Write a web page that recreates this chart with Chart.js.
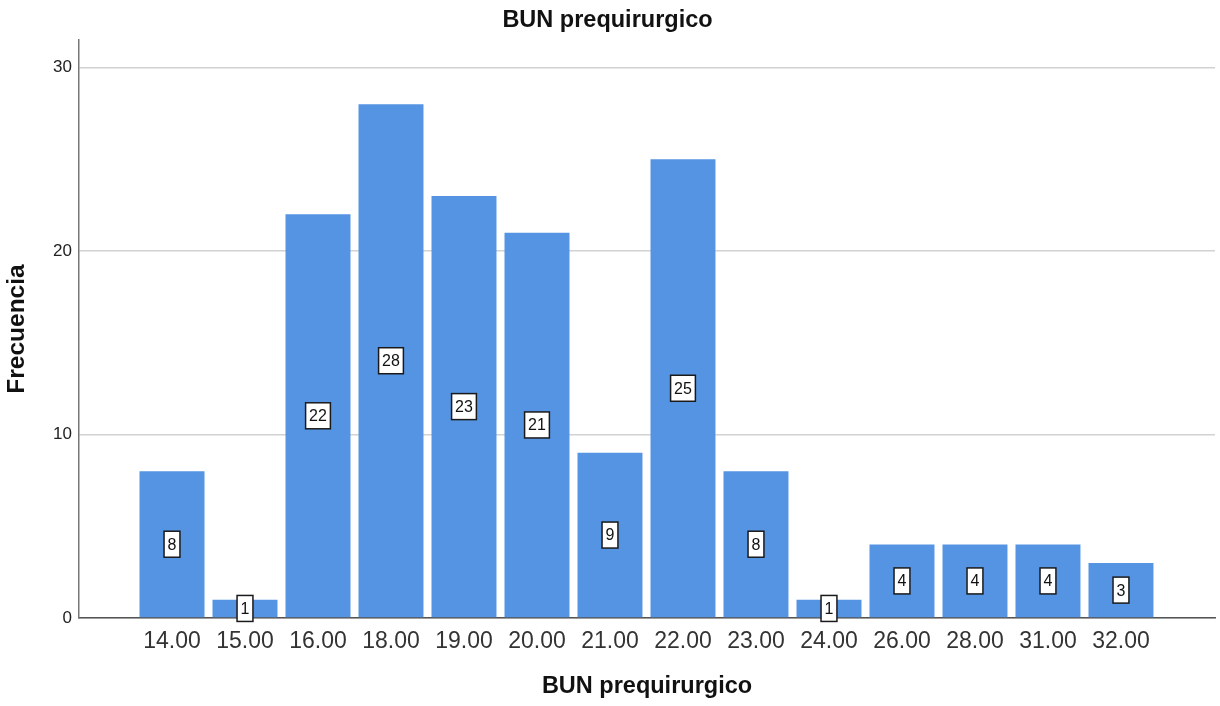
<!DOCTYPE html>
<html>
<head>
<meta charset="utf-8">
<script src="https://cdn.jsdelivr.net/npm/chart.js@4/dist/chart.umd.min.js"></script>
<style>
  html, body { margin: 0; padding: 0; background: #ffffff; }
  #wrap { width: 1220px; height: 706px; position: relative; }
</style>
</head>
<body>
<div id="wrap"><canvas id="c" width="1220" height="706"></canvas></div>
<script>
const categories = ['14.00', '15.00', '16.00', '18.00', '19.00', '20.00', '21.00', '22.00', '23.00', '24.00', '26.00', '28.00', '31.00', '32.00'];
const frequencies = [8, 1, 22, 28, 23, 21, 9, 25, 8, 1, 4, 4, 4, 3];
const yTicks = [0, 10, 20, 30];
const chartTitle = 'BUN prequirurgico';
const xTitle = 'BUN prequirurgico';
const yTitle = 'Frecuencia';

const FONT = "'Liberation Sans', Arial, Helvetica, sans-serif";

const points = categories.map((c, i) => ({ x: i, y: frequencies[i] }));

const barLabels = {
  id: 'barLabels',
  afterDatasetsDraw(chart) {
    const ctx = chart.ctx;
    const meta = chart.getDatasetMeta(0);
    ctx.save();
    ctx.font = '16px ' + FONT;
    ctx.textAlign = 'center';
    ctx.textBaseline = 'middle';
    meta.data.forEach((el, i) => {
      const txt = String(frequencies[i]);
      const w = ctx.measureText(txt).width + 7;
      const h = 26;
      const cx = el.x;
      const cy = (el.y + el.base) / 2;
      ctx.fillStyle = '#ffffff';
      ctx.fillRect(cx - w / 2, cy - h / 2, w, h);
      ctx.lineWidth = 1.5;
      ctx.strokeStyle = '#1a1a1a';
      ctx.strokeRect(cx - w / 2, cy - h / 2, w, h);
      ctx.fillStyle = '#111111';
      ctx.fillText(txt, cx, cy + 1);
    });
    ctx.restore();
  }
};

new Chart(document.getElementById('c'), {
  type: 'bar',
  data: {
    datasets: [{
      data: points,
      backgroundColor: '#5594e3',
      borderWidth: 0,
      barPercentage: 0.89,
      categoryPercentage: 1.0
    }]
  },
  options: {
    responsive: false,
    animation: false,
    devicePixelRatio: 1,
    layout: { padding: { left: 0, right: 5, top: 0, bottom: 0 } },
    plugins: {
      legend: { display: false },
      tooltip: { enabled: false },
      title: {
        display: true,
        text: chartTitle,
        color: '#111111',
        font: { family: FONT, size: 23.5, weight: 'bold' },
        padding: { top: 6, bottom: 5.8 }
      }
    },
    scales: {
      x: {
        type: 'linear',
        offset: false,
        min: -1.274,
        max: 14.288,
        afterBuildTicks: (axis) => { axis.ticks = categories.map((c, i) => ({ value: i })); },
        afterFit: (s) => { s.height = 88; },
        grid: { display: false, drawTicks: false, offset: false },
        border: { display: true, color: '#555555', width: 1.5 },
        ticks: {
          autoSkip: false,
          maxRotation: 0,
          padding: 10,
          color: '#333333',
          font: { family: FONT, size: 23 },
          callback: (v) => categories[Math.round(v)] ?? ''
        },
        title: {
          display: true,
          text: xTitle,
          color: '#111111',
          font: { family: FONT, size: 23.5, weight: 'bold' },
          padding: { top: 0, bottom: 5 }
        }
      },
      y: {
        min: 0,
        max: 31.5,
        afterBuildTicks: (axis) => { axis.ticks = yTicks.map(v => ({ value: v })); },
        afterFit: (s) => { s.width = 79; },
        grid: { color: '#d2d2d2', lineWidth: 1.5, drawTicks: false },
        border: { display: true, color: '#777777', width: 1.5 },
        ticks: {
          padding: 7,
          color: '#222222',
          font: { family: FONT, size: 17 }
        },
        title: {
          display: true,
          text: yTitle,
          color: '#111111',
          font: { family: FONT, size: 24.5, weight: 'bold' },
          padding: { top: 3, bottom: 0 }
        }
      }
    }
  },
  plugins: [barLabels]
});
</script>
</body>
</html>
